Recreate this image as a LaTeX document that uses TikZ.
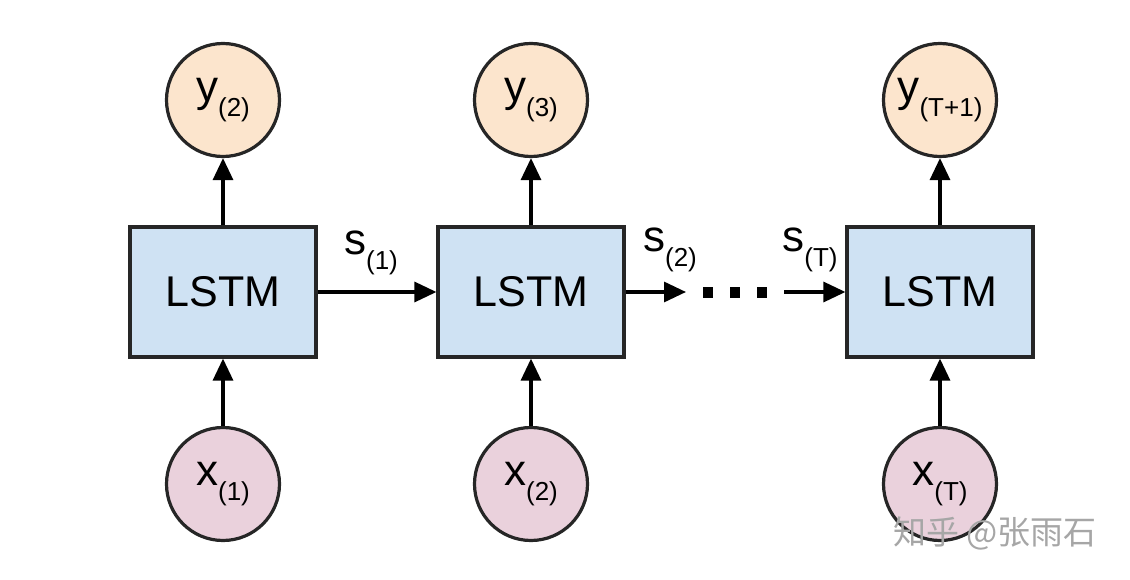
\documentclass[tikz,border=0pt]{standalone}
\usepackage{fontspec}
\setmainfont{Liberation Sans}
\newfontfamily\cjk{Noto Sans CJK SC}
\usetikzlibrary{arrows.meta}
\begin{document}
\begin{tikzpicture}[x=1pt,y=-1pt,
  box/.style={draw=black!85,line width=3.2pt,fill={rgb,255:red,207;green,226;blue,243},minimum width=186pt,minimum height=130pt,font=\fontsize{43}{48}\selectfont,inner sep=0pt},
  yc/.style={circle,draw=black!85,line width=3.2pt,fill={rgb,255:red,252;green,229;blue,205},minimum size=113pt,inner sep=0pt,font=\fontsize{44}{48}\selectfont},
  xc/.style={circle,draw=black!85,line width=3.2pt,fill={rgb,255:red,234;green,209;blue,220},minimum size=113pt,inner sep=0pt,font=\fontsize{44}{48}\selectfont},
  ar/.style={line width=3.2pt,-{Triangle[length=22pt,width=20pt]}},
  lab/.style={font=\fontsize{44}{48}\selectfont}]
\useasboundingbox (0,0) rectangle (1130,580);
\def\sub#1{\raisebox{-0.33em}{\fontsize{26}{30}\selectfont#1}}
\node[box] (l1) at (223,292) {LSTM};
\node[box] (l2) at (531,292) {LSTM};
\node[box] (l3) at (940,292) {LSTM};
\node[yc] (y1) at (223,100) {y\sub{(2)}};
\node[yc] (y2) at (531,100) {y\sub{(3)}};
\node[yc] (y3) at (940,100) {y\sub{(T+1)}};
\node[xc] (x1) at (223,484) {x\sub{(1)}};
\node[xc] (x2) at (531,484) {x\sub{(2)}};
\node[xc] (x3) at (940,484) {x\sub{(T)}};
\foreach \i in {1,2,3}{
  \draw[ar] (l\i) -- (y\i);
  \draw[ar] (x\i) -- (l\i);
}
\coordinate (a2) at (686,292);
\coordinate (a3) at (784,292);
\draw[ar] (l1) -- (l2);
\draw[ar] (l2.east) -- (a2);
\draw[ar] (a3) -- (l3.west);
\foreach \xx in {708,735,762} \fill (\xx-5,287) rectangle (\xx+5,298);
\node[lab] (s1) at (371,253) {s\sub{(1)}};
\node[lab] (s2) at (670,250) {s\sub{(2)}};
\node[lab] (s3) at (810,250) {s\sub{(T)}};
\node[text=black!35,font=\cjk\fontsize{33}{36}\selectfont] (wm) at (995,533) {知乎 @张雨石};
\end{tikzpicture}
\end{document}
